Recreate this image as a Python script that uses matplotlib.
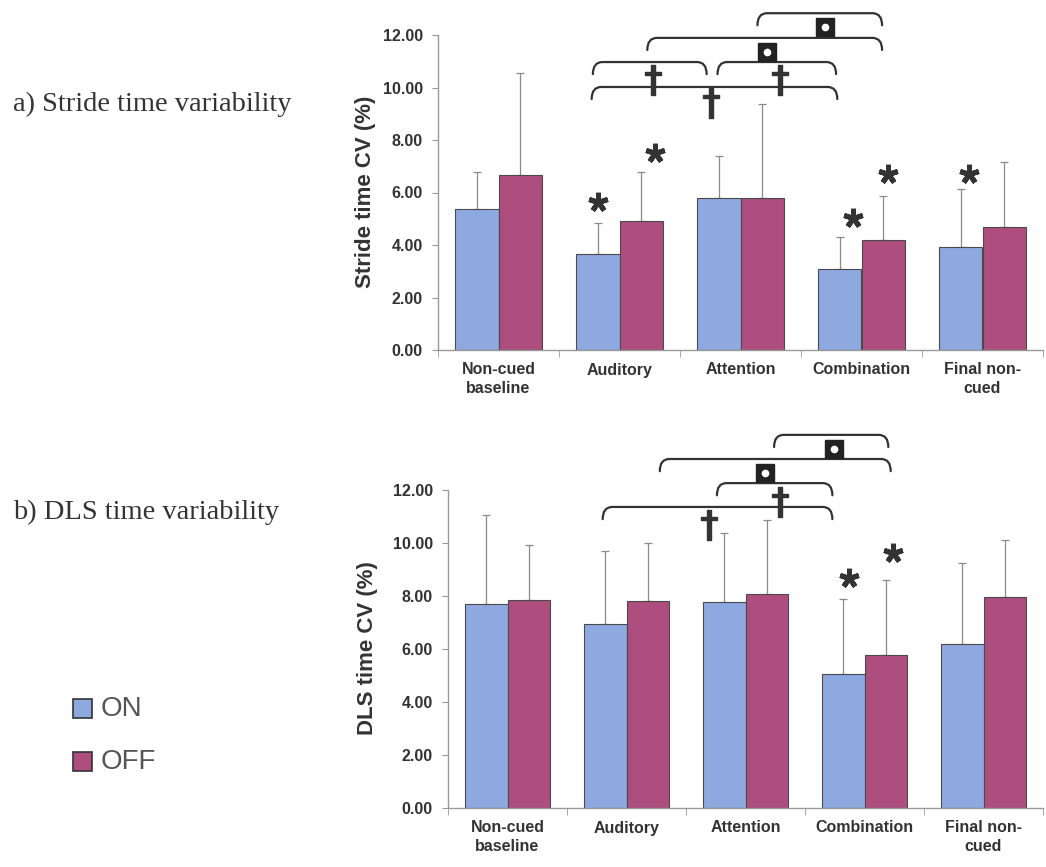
import matplotlib
matplotlib.use("Agg")
import matplotlib.pyplot as plt
from matplotlib.path import Path
from matplotlib.patches import PathPatch

# ---------------- data ----------------
categories = ["Non-cued\nbaseline", "Auditory", "Attention", "Combination", "Final non-\ncued"]
series = ["ON", "OFF"]

stride_on = [5.37, 3.66, 5.78, 3.08, 3.92]
stride_off = [6.65, 4.93, 5.80, 4.18, 4.68]
stride_on_err = [1.41, 1.18, 1.61, 1.22, 2.21]
stride_off_err = [3.90, 1.85, 3.57, 1.69, 2.48]

dls_on = [7.70, 6.94, 7.78, 5.06, 6.19]
dls_off = [7.86, 7.82, 8.07, 5.78, 7.96]
dls_on_err = [3.36, 2.76, 2.59, 2.83, 3.06]
dls_off_err = [2.06, 2.18, 2.78, 2.82, 2.14]

yticks = [0, 2, 4, 6, 8, 10, 12]

# significance marks: (x, y)
stride_stars = [(0.82, 5.64), (1.29, 7.50), (2.93, 5.03), (3.22, 6.70), (3.89, 6.70)]
dls_stars = [(2.87, 8.68), (3.24, 9.62)]

# brackets: (x0, x1, y_line, symbol, sym_x, sym_y)
stride_brackets = [
    (2.14, 3.17, 12.83, "sq", 2.70, 12.31),
    (1.23, 3.17, 11.89, "sq", 2.22, 11.37),
    (0.78, 1.72, 10.97, "dag", 1.28, 10.29),
    (1.81, 2.79, 10.97, "dag", 2.33, 10.29),
    (0.77, 2.80, 10.02, "dag", 1.76, 9.41),
]
dls_brackets = [
    (2.24, 3.20, 14.08, "sq", 2.74, 13.55),
    (1.28, 3.22, 13.17, "sq", 2.16, 12.64),
    (1.76, 2.73, 12.26, "dag", 2.29, 11.55),
    (0.80, 2.73, 11.36, "dag", 1.69, 10.68),
]

# ---------------- style ----------------
ON_COLOR = "#8EA8E0"
OFF_COLOR = "#AE4E7E"
EDGE = "#4a4a4a"
TXT = "#333333"
W, H = 1046, 867

plt.rcParams["font.family"] = ["Liberation Sans", "DejaVu Sans"]

fig = plt.figure(figsize=(W / 100, H / 100), dpi=100)


def px_axes(left, top, right, bottom):
    return fig.add_axes([left / W, 1 - bottom / H, (right - left) / W, (bottom - top) / H])


def bracket(ax, x0, x1, y, drop, dx):
    verts = [(x0, y - drop), (x0, y), (x0 + dx, y), (x1 - dx, y), (x1, y), (x1, y - drop)]
    codes = [Path.MOVETO, Path.CURVE3, Path.CURVE3, Path.LINETO, Path.CURVE3, Path.CURVE3]
    p = PathPatch(Path(verts, codes), facecolor="none", edgecolor="#333333",
                  lw=1.6, clip_on=False, capstyle="round")
    ax.add_patch(p)


def draw_panel(ax, on, off, on_err, off_err, ylabel, stars, brackets, ylabel_xy):
    x = list(range(len(categories)))
    bw = 0.36
    xo = [i - 0.18 for i in x]
    xf = [i + 0.18 for i in x]
    ax.bar(xo, on, bw, color=ON_COLOR, edgecolor=EDGE, lw=0.8, zorder=2, label=series[0])
    ax.bar(xf, off, bw, color=OFF_COLOR, edgecolor=EDGE, lw=0.8, zorder=2, label=series[1])
    ax.errorbar(xo, on, yerr=[[0] * len(on), on_err], fmt="none", ecolor="#8a8a8a",
                elinewidth=0.9, capsize=3, capthick=0.9, zorder=1)
    ax.errorbar(xf, off, yerr=[[0] * len(off), off_err], fmt="none", ecolor="#8a8a8a",
                elinewidth=0.9, capsize=3, capthick=0.9, zorder=1)
    ax.set_xlim(-0.5, 4.5)
    ax.set_ylim(0, 12)
    ax.set_yticks(yticks)
    ax.set_yticklabels([f"{v:.2f}" for v in yticks], fontsize=11.5, fontweight="bold", color=TXT)
    ax.set_xticks(x)
    ax.set_xticklabels(categories, fontsize=11.5, fontweight="bold", color=TXT, linespacing=1.3)
    ax.set_xticks([i + 0.5 for i in range(-1, len(categories))], minor=True)
    ax.tick_params(axis="x", which="major", length=0, pad=9)
    ax.tick_params(axis="x", which="minor", length=5, color="#999999", direction="out")
    ax.tick_params(axis="y", length=4, color="#999999", direction="out", pad=7)
    for s in ["top", "right"]:
        ax.spines[s].set_visible(False)
    for s in ["left", "bottom"]:
        ax.spines[s].set_color("#999999")
        ax.spines[s].set_linewidth(1.0)
    fig.text(ylabel_xy[0] / W, 1 - ylabel_xy[1] / H, ylabel, rotation=90, ha="center",
             va="center", fontsize=16, fontweight="bold", color=TXT)
    for sx, sy in stars:
        ax.plot([sx], [sy], marker=(5, 2, 0), ms=14, mew=3.6, color="#333333",
                clip_on=False, zorder=5)
    for x0, x1, yl, sym, sx, sy in brackets:
        bracket(ax, x0, x1, yl, 0.46, 0.08)
        if sym == "sq":
            ax.plot([sx], [sy], marker="s", ms=12.5, color="#222222", mec="#222222",
                    clip_on=False, zorder=6)
            ax.plot([sx], [sy], marker="o", ms=4.5, color="white", mec="white",
                    clip_on=False, zorder=7)
        else:
            ax.plot([sx], [sy], marker=r"$\dagger$", ms=22, color="#333333", mec="#333333",
                    clip_on=False, zorder=6)


ax1 = px_axes(438, 35, 1043, 350)
draw_panel(ax1, stride_on, stride_off, stride_on_err, stride_off_err,
           "Stride time CV (%)", stride_stars, stride_brackets, (366, 192))

ax2 = px_axes(448, 490, 1043, 808)
draw_panel(ax2, dls_on, dls_off, dls_on_err, dls_off_err,
           "DLS time CV (%)", dls_stars, dls_brackets, (367, 648))

# left titles
fig.text(13 / W, 1 - 104 / H, "a) Stride time variability", ha="left", va="center",
         fontsize=20.5, color=TXT, family=["Liberation Serif", "DejaVu Serif"])
fig.text(13 / W, 1 - 512 / H, "b) DLS time variability", ha="left", va="center",
         fontsize=20.5, color=TXT, family=["Liberation Serif", "DejaVu Serif"])

# legend
for lab, col, yc in [(series[0], ON_COLOR, 709), (series[1], OFF_COLOR, 762)]:
    fig.patches.append(plt.Rectangle((73 / W, 1 - (yc + 9) / H), 19 / W, 19 / H,
                                     transform=fig.transFigure, facecolor=col,
                                     edgecolor="#333333", lw=1.2))
    fig.text(101 / W, 1 - yc / H, lab, ha="left", va="center", fontsize=20, color="#555555")

fig.savefig("out.png", dpi=100)
